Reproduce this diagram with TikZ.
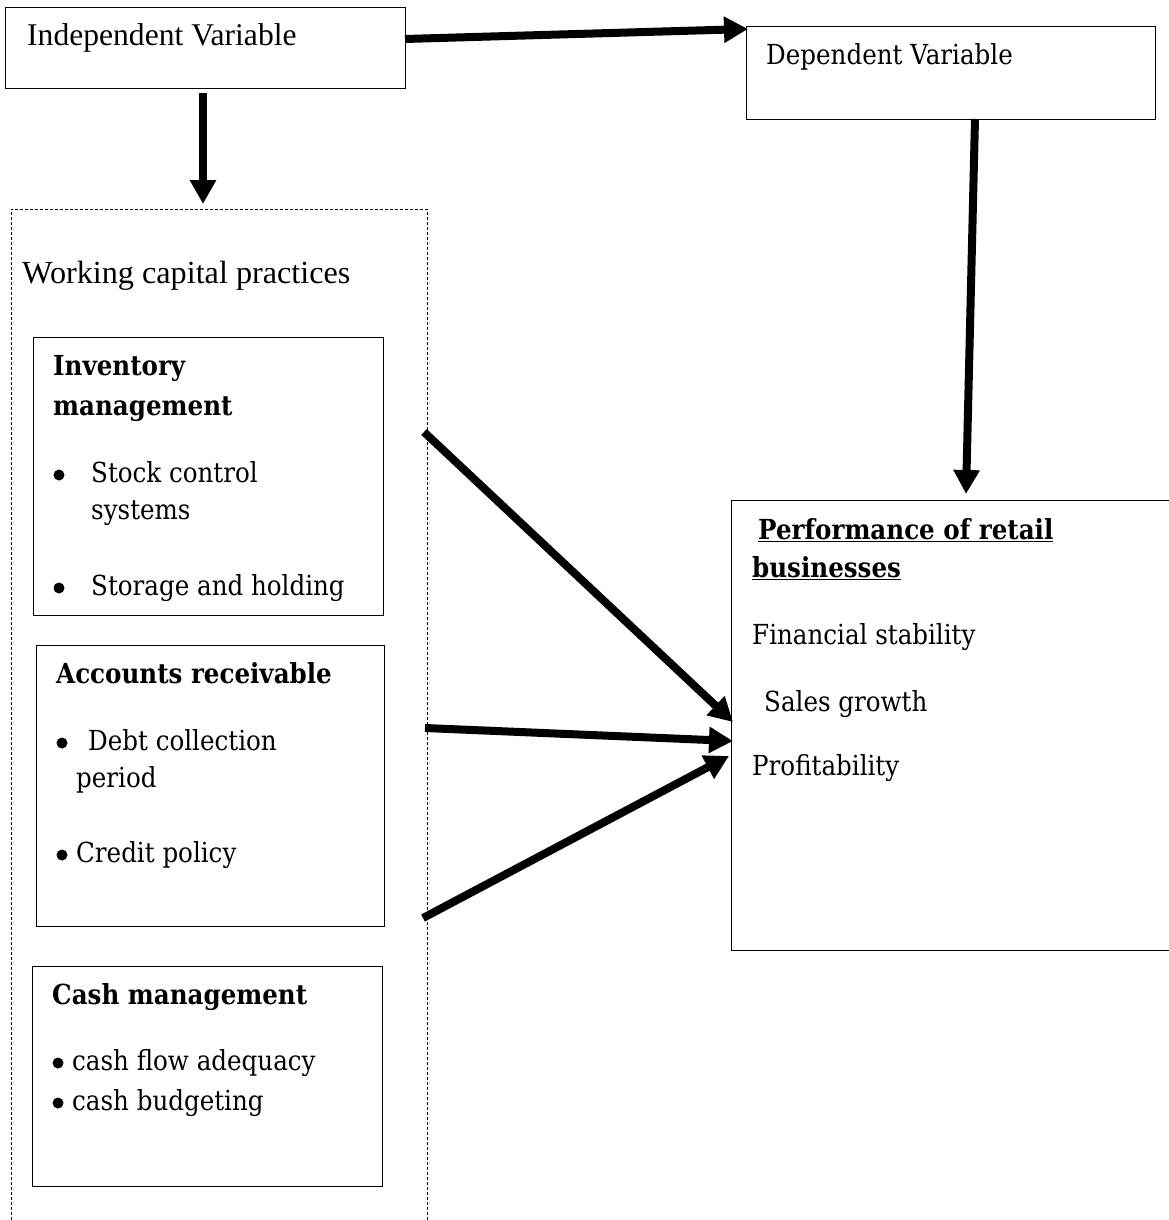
\documentclass[tikz,border=0pt]{standalone}
\usepackage{fontspec}
\setmainfont{Liberation Serif}
\newfontfamily\cam[FakeStretch=0.89]{DejaVu Serif}
\usetikzlibrary{arrows.meta}
\begin{document}
\begin{tikzpicture}[x=1pt,y=-1pt,
  box/.style={draw, line width=1.3pt, anchor=north west, inner sep=0pt},
  frame/.style={draw, line width=0.9pt, dash pattern=on 3pt off 2pt, anchor=north west, inner sep=0pt},
  txt/.style={anchor=base west, inner sep=0pt, font=\cam\fontsize{27.6}{34}\selectfont},
  btxt/.style={txt, font=\cam\bfseries\fontsize{27.6}{34}\selectfont},
  tms/.style={anchor=base west, inner sep=0pt, font=\fontsize{31.6}{36}\selectfont},
  dot/.style={circle, fill, inner sep=0pt, minimum size=11pt},
  bigarrow/.style={line width=8pt, -{Triangle[length=24pt,width=25pt]}}]
\useasboundingbox (0,0) rectangle (1168,1220);
% boxes
\node[box, minimum width=400pt, minimum height=81pt] (indep) at (5,7) {};
\node[box, minimum width=409pt, minimum height=93pt] (dep) at (746,26) {};
\node[frame, minimum width=416pt, minimum height=1030pt] (wcp) at (11,209) {};
\node[box, minimum width=350pt, minimum height=278pt] (inv) at (33,337) {};
\node[box, minimum width=348pt, minimum height=281pt] (acc) at (36,645) {};
\node[box, minimum width=350pt, minimum height=220pt] (cash) at (32,966) {};
\node[box, minimum width=450pt, minimum height=450pt] (perf) at (731,500) {};
% texts
\node[tms] (tindep) at (27,46) {Independent Variable};
\node[txt] (tdep) at (766,65) {Dependent Variable};
\node[tms, font=\fontsize{32.2}{36}\selectfont] (twcp) at (22,283) {Working capital practices};
\node[btxt] (tinv1) at (53,375) {Inventory};
\node[btxt] (tinv2) at (53,415) {management};
\node[dot] (binv1) at (59,475) {};
\node[txt] (tinv3) at (91,482) {Stock control};
\node[txt] (tinv4) at (91,519) {systems};
\node[dot] (binv2) at (59,588) {};
\node[txt] (tinv5) at (91,595) {Storage and holding};
\node[btxt] (tacc1) at (56,683) {Accounts receivable};
\node[dot] (bacc1) at (62,743) {};
\node[txt] (tacc2) at (88,750) {Debt collection};
\node[txt] (tacc3) at (76,787) {period};
\node[dot] (bacc2) at (62,855) {};
\node[txt] (tacc4) at (76,862) {Credit policy};
\node[btxt] (tcash1) at (52,1004) {Cash management};
\node[dot] (bcash1) at (58,1063) {};
\node[txt] (tcash2) at (72,1070) {cash flow adequacy};
\node[dot] (bcash2) at (58,1103) {};
\node[txt] (tcash3) at (72,1110) {cash budgeting};
\node[btxt] (tperf1) at (758,539) {\underline{Performance of retail}};
\node[btxt] (tperf2) at (752,577) {\underline{businesses}};
\node[txt] (tperf3) at (752,644) {Financial stability};
\node[txt] (tperf4) at (764,711) {Sales growth};
\node[txt] (tperf5) at (752,775) {Profitability};
% connector end points
\coordinate (s1) at (405,39);  \coordinate (e1) at (748,29);
\coordinate (s2) at (203,93);  \coordinate (e2) at (203,204);
\coordinate (s3) at (975,119); \coordinate (e3) at (966,494);
\coordinate (s4) at (424,432); \coordinate (e4) at (733,722);
\coordinate (s5) at (425,728); \coordinate (e5) at (733,741);
\coordinate (s6) at (423,918); \coordinate (e6) at (729,756);
\draw[bigarrow] (s1) -- (e1);
\draw[bigarrow] (s2) -- (e2);
\draw[bigarrow] (s3) -- (e3);
\draw[bigarrow] (s4) -- (e4);
\draw[bigarrow] (s5) -- (e5);
\draw[bigarrow] (s6) -- (e6);
\end{tikzpicture}
\end{document}
